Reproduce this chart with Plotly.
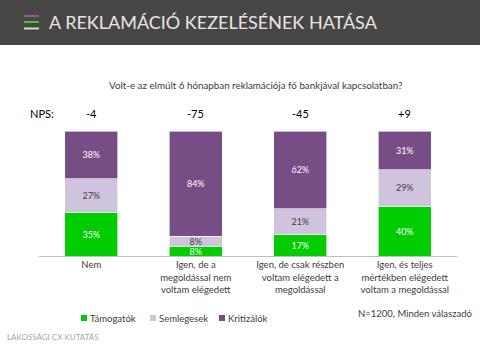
import plotly.graph_objects as go

categories = ["Nem", "Igen, de a<br>megoldással nem<br>voltam elégedett",
              "Igen, de csak részben<br>voltam elégedett a<br>megoldással",
              "Igen, és teljes<br>mértékben elégedett<br>voltam a megoldással"]
tamogatok = [35, 8, 17, 40]
semlegesek = [27, 8, 21, 29]
kritizalok = [38, 84, 62, 31]
nps = ["-4", "-75", "-45", "+9"]

FONT = "Lato"
L, R, T, B = 39, 457, 131, 256

def px(p):
    return (p - L) / (R - L)

def py(p):
    return (B - p) / (B - T)

fig = go.Figure()
series = [("Támogatók", tamogatok, "#00CC00", "white"),
          ("Semlegesek", semlegesek, "#D0C3DD", "#404040"),
          ("Kritizálók", kritizalok, "#764D85", "white")]
for name, vals, col, tcol in series:
    fig.add_trace(go.Bar(
        name=name, x=categories, y=vals,
        marker=dict(color=col, line=dict(color="white", width=0.6)),
        text=[f"{v}%" for v in vals], textposition="inside",
        insidetextanchor="middle",
        textfont=dict(color=tcol, size=9, family=FONT),
        hoverinfo="skip", showlegend=False))

fig.update_layout(
    barmode="stack", bargap=0.49,
    width=480, height=360,
    margin=dict(l=L, r=480 - R, t=T, b=360 - B),
    paper_bgcolor="white", plot_bgcolor="white",
    font=dict(family=FONT, color="#404040"),
    uniformtext=dict(mode="show", minsize=9),
    showlegend=False,
    xaxis=dict(showline=True, linecolor="#BFBFBF", linewidth=1, ticks="",
               tickfont=dict(size=9.5, color="#404040", family=FONT), showgrid=False),
    yaxis=dict(range=[0, 100], visible=False, showgrid=False),
)

shapes = [
    dict(type="rect", xref="paper", yref="paper", x0=px(0), x1=px(480), y0=py(45), y1=py(0),
         fillcolor="#474645", line=dict(width=0), layer="below"),
    dict(type="line", xref="paper", yref="paper", x0=px(24), x1=px(39), y0=py(16), y1=py(16),
         line=dict(color="#8E5BA0", width=2)),
    dict(type="line", xref="paper", yref="paper", x0=px(24), x1=px(39), y0=py(22), y1=py(22),
         line=dict(color="#4CBF3A", width=2)),
    dict(type="line", xref="paper", yref="paper", x0=px(24), x1=px(39), y0=py(28.5), y1=py(28.5),
         line=dict(color="#C8E6A8", width=2)),
]

ann = [
    dict(text="A REKLAMÁCIÓ KEZELÉSÉNEK HATÁSA", x=px(47), y=py(22), xanchor="left", yanchor="middle",
         font=dict(size=18, color="#E6E6E6", family=FONT)),
    dict(text="Volt-e az elmúlt 6 hónapban reklamációja fő bankjával kapcsolatban?",
         x=px(255), y=py(85), xanchor="center", yanchor="middle",
         font=dict(size=9.8, color="#404040", family=FONT)),
    dict(text="NPS:", x=px(28), y=py(113), xanchor="left", yanchor="middle",
         font=dict(size=11, color="#000000", family=FONT)),
    dict(text="N=1200, Minden válaszadó", x=px(474), y=py(313), xanchor="right", yanchor="middle",
         font=dict(size=9.5, color="#404040", family=FONT)),
    dict(text="LAKOSSÁGI CX KUTATÁS", x=px(5), y=py(337), xanchor="left", yanchor="middle",
         font=dict(size=8, color="#A6A6A6", family=FONT)),
]
for c, v in zip(categories, nps):
    ann.append(dict(text=v, x=c, xref="x", y=py(113), yref="paper", xanchor="center", yanchor="middle",
                    font=dict(size=11, color="#000000", family=FONT)))

# legend drawn as square swatch + label
leg_x = [81, 150, 219]
for (name, vals, col, tcol), lx in zip(series, leg_x):
    shapes.append(dict(type="rect", xref="paper", yref="paper", x0=px(lx), x1=px(lx + 6),
                       y0=py(321), y1=py(315), fillcolor=col, line=dict(width=0)))
    ann.append(dict(text=name, x=px(lx + 7), y=py(318), xanchor="left", yanchor="middle",
                    font=dict(size=9.5, color="#404040", family=FONT)))

for a in ann:
    a.setdefault("xref", "paper")
    a.setdefault("yref", "paper")
    a.setdefault("showarrow", False)
fig.update_layout(shapes=shapes, annotations=ann)

fig.write_html("out.html", config={"displayModeBar": False},
               post_script="document.body.style.margin='0';")
